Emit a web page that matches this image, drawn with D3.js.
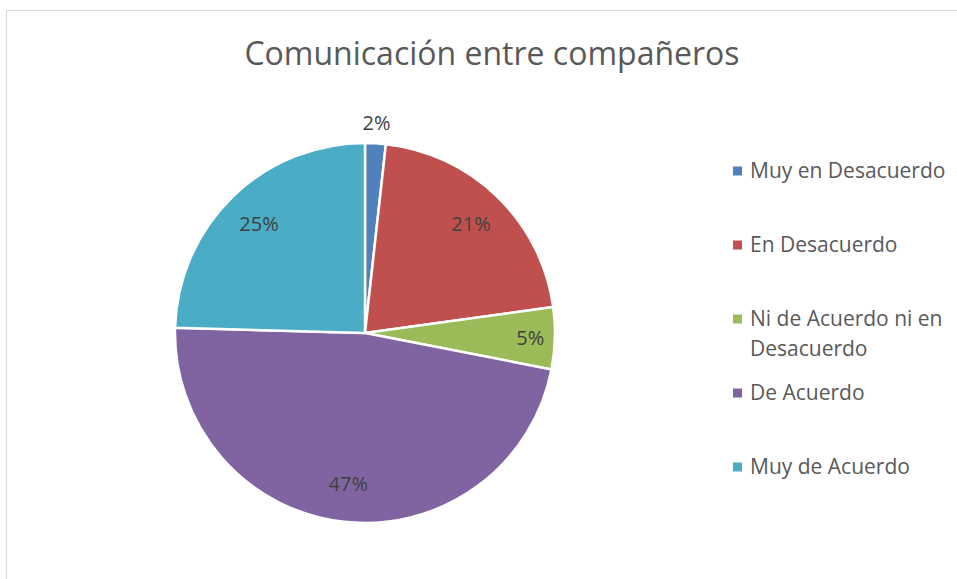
<!DOCTYPE html>
<html lang="es">
<head>
  <meta charset="utf-8" />
  <title>Comunicación entre compañeros</title>
  <script src="https://cdnjs.cloudflare.com/ajax/libs/d3/7.8.5/d3.min.js"></script>
  <style>
    html, body { margin: 0; padding: 0; background: #fff; }
    svg { display: block; font-family: "Open Sans", "Noto Sans", sans-serif; }
  </style>
</head>
<body>
<svg id="chart" width="957" height="579"></svg>
<script>
  const title = "Comunicación entre compañeros";
  const categories = ["Muy en Desacuerdo", "En Desacuerdo", "Ni de Acuerdo ni en Desacuerdo", "De Acuerdo", "Muy de Acuerdo"];
  const counts = [1, 12, 3, 27, 14];
  const colors = ["#4f81bd", "#c0504d", "#9bbb59", "#8064a2", "#4bacc6"];

  const svg = d3.select("#chart");
  const W = 957, H = 579;

  // chart area border (runs off right and bottom)
  svg.append("rect")
    .attr("x", 6.5).attr("y", 10.5)
    .attr("width", W).attr("height", H)
    .attr("fill", "#fff")
    .attr("stroke", "#d9d9d9")
    .attr("stroke-width", 1);

  svg.append("text")
    .attr("x", 492)
    .attr("y", 65)
    .attr("text-anchor", "middle")
    .attr("fill", "#595959")
    .style("font-size", "32px")
    .text(title);

  const data = categories.map((c, i) => ({ name: c, value: counts[i], color: colors[i] }));
  const total = d3.sum(counts);

  const cx = 365, cy = 333, R = 190;
  const pie = d3.pie().sort(null).value(d => d.value);
  const arc = d3.arc().innerRadius(0).outerRadius(R);
  const arcs = pie(data);

  const g = svg.append("g").attr("transform", "translate(" + cx + "," + cy + ")");

  g.selectAll("path")
    .data(arcs)
    .enter()
    .append("path")
    .attr("d", arc)
    .attr("fill", d => d.data.color)
    .attr("stroke", "#fff")
    .attr("stroke-width", 2.5)
    .attr("stroke-linejoin", "round");

  function labelRadius(d) {
    const share = d.data.value / total;
    if (share < 0.03) return R + 20;   // tiny slice: label outside
    if (share < 0.1) return R * 0.87;  // thin slice: near the edge
    return R * 0.8;
  }

  g.selectAll("text.lbl")
    .data(arcs)
    .enter()
    .append("text")
    .attr("class", "lbl")
    .attr("transform", d => {
      const a = (d.startAngle + d.endAngle) / 2;
      const r = labelRadius(d);
      return "translate(" + (Math.sin(a) * r) + "," + (-Math.cos(a) * r) + ")";
    })
    .attr("text-anchor", "middle")
    .attr("dy", "0.35em")
    .attr("fill", "#404040")
    .style("font-size", "20px")
    .text(d => Math.round(d.data.value / total * 100) + "%");

  // legend
  const ly = d3.scalePoint().domain(categories).range([171, 467]);
  const legend = svg.append("g");
  const maxW = 205;

  categories.forEach((c, i) => {
    const y = ly(c);
    legend.append("rect")
      .attr("x", 733).attr("y", y - 4.5)
      .attr("width", 9).attr("height", 9)
      .attr("fill", colors[i]);

    const t = legend.append("text")
      .attr("x", 750).attr("y", y)
      .attr("dy", "0.35em")
      .attr("fill", "#595959")
      .style("font-size", "21px");

    // simple word wrap
    const words = c.split(" ");
    let line = [];
    let tspan = t.append("tspan").attr("x", 750);
    words.forEach(w => {
      line.push(w);
      tspan.text(line.join(" "));
      if (tspan.node().getComputedTextLength() > maxW && line.length > 1) {
        line.pop();
        tspan.text(line.join(" "));
        line = [w];
        tspan = t.append("tspan").attr("x", 750).attr("dy", 30).text(w);
      }
    });
  });
</script>
</body>
</html>
